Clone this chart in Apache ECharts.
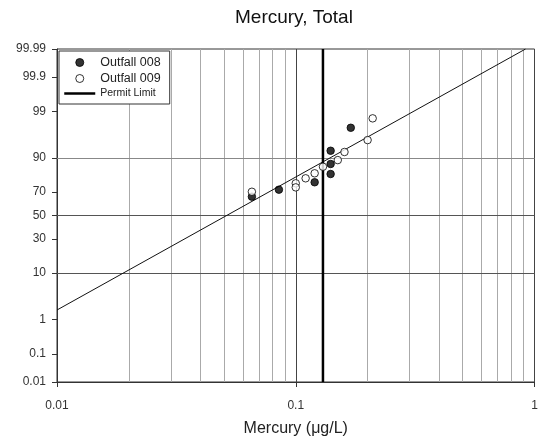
<!DOCTYPE html>
<html><head><meta charset="utf-8">
<script src="https://cdn.jsdelivr.net/npm/echarts@6/dist/echarts.min.js"></script>
<style>html,body{margin:0;padding:0;background:#fff}#c{width:551px;height:438px}</style>
</head><body><div id="c"></div>
<script>
// ---- data ----
const yTickLabels = ['0.01','0.1','1','10','30','50','70','90','99','99.9','99.99'];
const yGridPercents = [10, 50, 90];
const xTickLabels = ['0.01', '0.1', '1'];
const xMinorGrid = [0.02,0.03,0.04,0.05,0.06,0.07,0.08,0.09,0.2,0.3,0.4,0.5,0.6,0.7,0.8,0.9];
const permitLimit = 0.13;
const outfall008X = [0.0655, 0.085, 0.12, 0.14, 0.14, 0.14, 0.17];
const outfall008P = [66.3, 71.8, 77.1, 82.3, 87.5, 92.6, 97.5];
const outfall009X = [0.0655, 0.1, 0.1, 0.11, 0.12, 0.13, 0.15, 0.16, 0.20, 0.21];
const outfall009P = [70.2, 76.4, 73.5, 79.7, 82.7, 86.2, 89.2, 92.2, 95.4, 98.5];
const fitX = [0.01, 0.917];
const fitP = [1.74, 99.99];

// ---- normal probability transform (percent -> z) ----
function probit(p) {
  const a = [-3.969683028665376e+01, 2.209460984245205e+02, -2.759285104469687e+02, 1.383577518672690e+02, -3.066479806614716e+01, 2.506628277459239e+00];
  const b = [-5.447609879822406e+01, 1.615858368580409e+02, -1.556989798598866e+02, 6.680131188771972e+01, -1.328068155288572e+01];
  const c = [-7.784894002430293e-03, -3.223964580411365e-01, -2.400758277161838e+00, -2.549732539343734e+00, 4.374664141464968e+00, 2.938163982698783e+00];
  const d = [7.784695709041462e-03, 3.224671290700398e-01, 2.445134137142996e+00, 3.754408661907416e+00];
  const plow = 0.02425, phigh = 1 - plow;
  let q, r;
  if (p < plow) {
    q = Math.sqrt(-2 * Math.log(p));
    return (((((c[0]*q+c[1])*q+c[2])*q+c[3])*q+c[4])*q+c[5]) / ((((d[0]*q+d[1])*q+d[2])*q+d[3])*q+1);
  } else if (p <= phigh) {
    q = p - 0.5; r = q*q;
    return (((((a[0]*r+a[1])*r+a[2])*r+a[3])*r+a[4])*r+a[5])*q / (((((b[0]*r+b[1])*r+b[2])*r+b[3])*r+b[4])*r+1);
  } else {
    q = Math.sqrt(-2 * Math.log(1 - p));
    return -(((((c[0]*q+c[1])*q+c[2])*q+c[3])*q+c[4])*q+c[5]) / ((((d[0]*q+d[1])*q+d[2])*q+d[3])*q+1);
  }
}
const Z = pct => probit(pct / 100);
const yTickZ = yTickLabels.map(s => Z(parseFloat(s)));
const yMin = yTickZ[0], yMax = yTickZ[yTickZ.length - 1];
function yLabel(v) {
  let best = 0, bd = Infinity;
  yTickZ.forEach((t, i) => { const dd = Math.abs(t - v); if (dd < bd) { bd = dd; best = i; } });
  return yTickLabels[best];
}
const pairs = (xs, ps) => xs.map((x, i) => [x, Z(ps[i])]);

const FONT = 'Liberation Sans, Arial, sans-serif';
const chart = echarts.init(document.getElementById('c'), null, {renderer: 'canvas'});
chart.setOption({
  animation: false,
  backgroundColor: '#fff',
  textStyle: {fontFamily: FONT},
  title: {
    text: 'Mercury, Total', left: 235, top: 8, padding: 0,
    textStyle: {fontSize: 19, fontWeight: 'normal', color: '#111', fontFamily: FONT}
  },
  grid: {left: 57, right: 16.5, top: 49, bottom: 56, show: true, borderColor: '#333', borderWidth: 1,
         backgroundColor: 'transparent', containLabel: false, outerBoundsMode: 'none'},
  legend: {
    orient: 'vertical', left: 59, top: 51, padding: [5, 9, 5, 4], z: 10,
    itemWidth: 31, itemHeight: 8, itemGap: 3,
    backgroundColor: '#fff', borderColor: '#333', borderWidth: 1, borderRadius: 0,
    textStyle: {fontSize: 12.5, color: '#222', fontFamily: FONT},
    itemStyle: {borderWidth: 1},
    data: [
      {name: 'Outfall 008'},
      {name: 'Outfall 009'},
      {name: 'Permit Limit', textStyle: {fontSize: 10.5},
       itemStyle: {opacity: 0, borderWidth: 0}, lineStyle: {color: '#000', width: 2.5}}
    ]
  },
  xAxis: {
    type: 'log', logBase: 10, min: 0.01, max: 1,
    axisLine: {onZero: false, lineStyle: {color: '#333', width: 1}},
    axisTick: {show: true, length: 5, lineStyle: {color: '#333'}},
    minorTick: {show: false},
    axisLabel: {margin: 18, fontSize: 12, color: '#333', fontFamily: FONT,
      formatter: v => xTickLabels[Math.round(Math.log10(v)) + 2] || ''},
    splitLine: {show: true, lineStyle: {color: '#444', width: 1}},
    name: 'Mercury (μg/L)', nameLocation: 'middle', nameGap: 39,
    nameTextStyle: {fontSize: 16, color: '#222', fontFamily: FONT}
  },
  yAxis: {
    type: 'value', min: yMin, max: yMax,
    axisLine: {show: true, onZero: false, lineStyle: {color: '#333', width: 1}},
    axisTick: {show: true, customValues: yTickZ, length: 5, lineStyle: {color: '#333'}},
    axisLabel: {customValues: yTickZ, formatter: v => yLabel(v), margin: 11, fontSize: 12, color: '#333', fontFamily: FONT},
    splitLine: {show: false}
  },
  series: [
    {
      name: 'grid', type: 'line', data: [], silent: true, z: 1,
      markLine: {
        z: 1,
        silent: true, symbol: ['none', 'none'], label: {show: false}, animation: false,
        emphasis: {disabled: true},
        lineStyle: {color: '#aaaaaa', width: 1, type: 'solid'},
        data: [
          ...xMinorGrid.map(v => ({xAxis: v})),
          ...yGridPercents.map(p => ({yAxis: Z(p), lineStyle: {color: p === 90 ? '#888' : '#555', width: 1, type: 'solid'}}))
        ]
      }
    },
    {
      name: 'fit', type: 'line', data: pairs(fitX, fitP), symbol: 'none', z: 2, silent: true,
      lineStyle: {color: '#111', width: 1}
    },
    {
      name: 'Outfall 008', type: 'scatter', data: pairs(outfall008X, outfall008P), z: 3,
      symbol: 'circle', symbolSize: 7.5,
      itemStyle: {color: '#000', borderColor: '#000', borderWidth: 1}
    },
    {
      name: 'Outfall 009', type: 'scatter', data: pairs(outfall009X, outfall009P), z: 4,
      symbol: 'circle', symbolSize: 7.5,
      itemStyle: {color: '#fff', borderColor: '#000', borderWidth: 1}
    },
    {
      name: 'Permit Limit', type: 'line', data: [[permitLimit, yMin], [permitLimit, yMax]], z: 2,
      symbol: 'none', showSymbol: false, silent: true,
      itemStyle: {color: '#000'}, lineStyle: {color: '#000', width: 2.5}
    }
  ]
});
</script></body></html>
